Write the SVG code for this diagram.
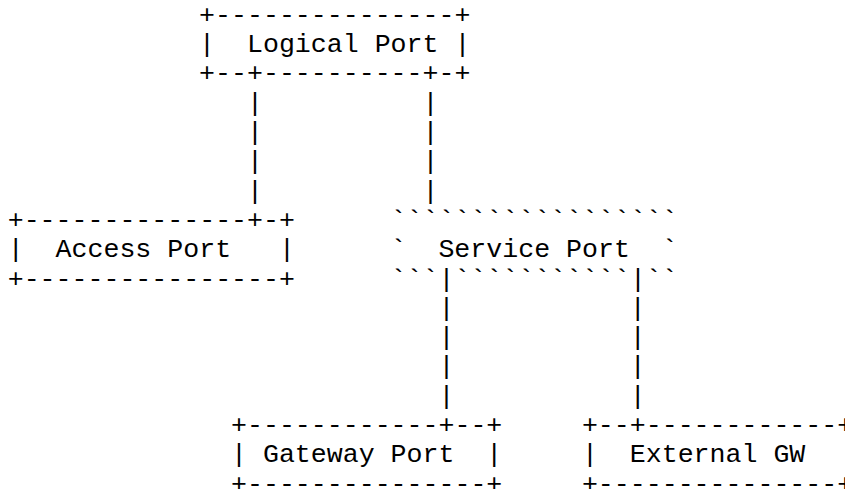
<svg xmlns="http://www.w3.org/2000/svg" width="845" height="489" viewBox="0 0 845 489">
<style>
text{font-family:'Courier New','Liberation Mono',monospace;font-size:26.6px;fill:#000;white-space:pre}
</style>
<rect width="845" height="489" fill="#fff"/>
<g id="logical-port">
<text x="199.1" y="22.8" xml:space="preserve">+---------------+</text>
<text x="199.1" y="52.1" xml:space="preserve">|  Logical Port |</text>
<text x="199.1" y="81.4" xml:space="preserve">+--+----------+-+</text>
</g>
<g id="access-port">
<text x="7.7" y="227.9" xml:space="preserve">+--------------+-+</text>
<text x="7.7" y="257.2" xml:space="preserve">|  Access Port   |</text>
<text x="7.7" y="286.5" xml:space="preserve">+----------------+</text>
</g>
<g id="service-port">
<text x="390.5" y="227.9" xml:space="preserve">``````````````````</text>
<text x="390.5" y="257.2" xml:space="preserve">`  Service Port  `</text>
<text x="390.5" y="286.5" xml:space="preserve">```|```````````|``</text>
</g>
<g id="gateway-port">
<text x="231" y="433" xml:space="preserve">+------------+--+</text>
<text x="231" y="462.3" xml:space="preserve">| Gateway Port  |</text>
<text x="231" y="491.6" xml:space="preserve">+---------------+</text>
</g>
<g id="external-gw">
<text x="581.9" y="433" xml:space="preserve">+--+------------+</text>
<text x="581.9" y="462.3" xml:space="preserve">|  External GW</text>
<text x="581.9" y="491.6" xml:space="preserve">+---------------+</text>
</g>
<g id="connectors">
<text x="247" y="110.7">|</text><text x="247" y="140">|</text><text x="247" y="169.3">|</text><text x="247" y="198.6">|</text>
<text x="422.4" y="110.7">|</text><text x="422.4" y="140">|</text><text x="422.4" y="169.3">|</text><text x="422.4" y="198.6">|</text>
<text x="438.4" y="315.8">|</text><text x="438.4" y="345.1">|</text><text x="438.4" y="374.4">|</text><text x="438.4" y="403.7">|</text>
<text x="629.8" y="315.8">|</text><text x="629.8" y="345.1">|</text><text x="629.8" y="374.4">|</text><text x="629.8" y="403.7">|</text>
</g>
</svg>
